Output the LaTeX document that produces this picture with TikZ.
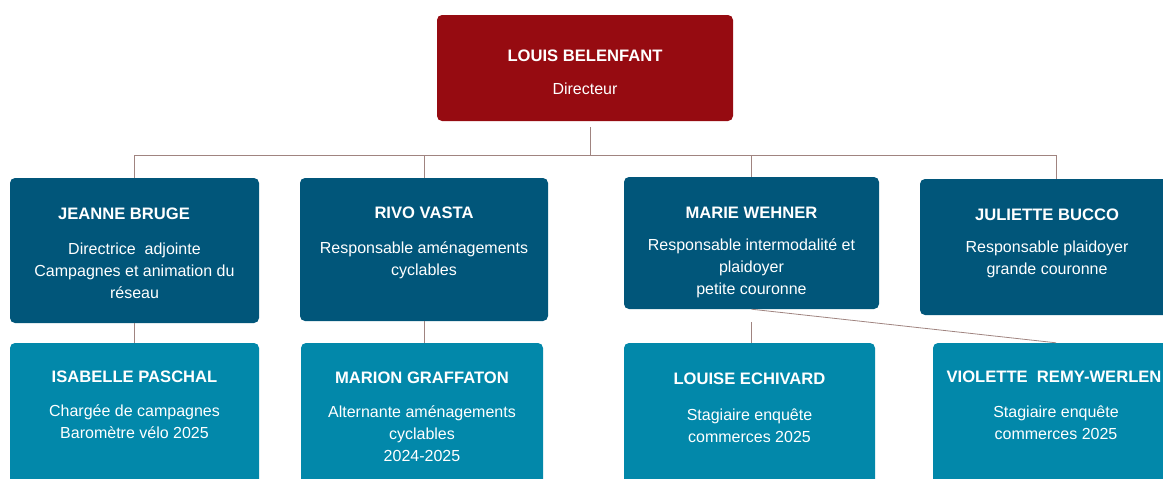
\documentclass[tikz,border=0pt]{standalone}
\usepackage{fontspec}
\setmainfont{Liberation Sans}
\usepackage{tikz}
\usetikzlibrary{positioning}

\definecolor{dirred}{RGB}{150,11,17}
\definecolor{teamblue}{RGB}{1,86,122}
\definecolor{staffblue}{RGB}{2,136,170}
\definecolor{linkbrown}{RGB}{160,132,128}

\newcommand{\who}[1]{{\fontsize{16.6}{22}\selectfont\bfseries #1}}

\begin{document}
\begin{tikzpicture}[x=1pt, y=-1pt,
    box/.style={
      rounded corners=5pt, inner sep=0pt
    },
    boss/.style={box, fill=dirred},
    team/.style={box, fill=teamblue, minimum height=140pt},
    staff/.style={box, fill=staffblue, minimum height=160pt},
    txt/.style={align=center, inner sep=0pt, text=white,
      font=\fontsize{16}{22}\selectfont},
    link/.style={draw=linkbrown, line width=0.8pt},
  ]
    \clip (0,0) rectangle (1163,479);

    \node[boss, minimum width=296pt, minimum height=106pt](louis) at (585,68) {};
    \node[txt, below=35pt of louis.north](louis_txt){
      \who{LOUIS BELENFANT}\\[11pt]
      Directeur
    };

    \node[team, minimum width=249pt, minimum height=145pt](jeanne) at (134.5,250.5) {};
    \node[txt, below=30pt of jeanne.north](jeanne_txt){
      \who{JEANNE BRUGE}\kern21pt\\[13pt]
      Directrice~~adjointe\\
      Campagnes et animation du\\
      réseau
    };

    \node[team, minimum width=248pt, minimum height=143pt](rivo) at (424,249.5) {};
    \node[txt, below=29pt of rivo.north](rivo_txt){
      \who{RIVO VASTA}\\[13pt]
      Responsable aménagements\\
      cyclables
    };

    \node[team, minimum width=255pt, minimum height=132pt](marie) at (751.5,243) {};
    \node[txt, below=30pt of marie.north](marie_txt){
      \who{MARIE WEHNER}\\[10pt]
      Responsable intermodalité et\\
      plaidoyer\\
      petite couronne
    };

    \node[team, minimum width=254pt, minimum height=136pt](juliette) at (1047,247) {};
    \node[txt, below=30pt of juliette.north](juliette_txt){
      \who{JULIETTE BUCCO}\\[10pt]
      Responsable plaidoyer\\
      grande couronne
    };

    \node[staff, minimum width=249pt](isabelle) at (134.5,423) {};
    \node[txt, below=28pt of isabelle.north](isabelle_txt){
      \who{ISABELLE PASCHAL}\\[12pt]
      Chargée de campagnes\\
      Baromètre vélo 2025
    };

    \node[staff, minimum width=242pt](marion) at (422,423) {};
    \node[txt, below=29pt of marion.north](marion_txt){
      \who{MARION GRAFFATON}\\[12pt]
      Alternante aménagements\\
      cyclables\\
      2024-2025
    };

    \node[staff, minimum width=251pt](louise) at (749.5,423) {};
    \node[txt, below=30pt of louise.north](louise_txt){
      \who{LOUISE ECHIVARD}\\[14pt]
      Stagiaire enquête\\
      commerces 2025
    };

    \node[staff, minimum width=246pt](violette) at (1056,423) {};
    \node[txt, below=28pt of violette.north](violette_txt){
      \who{VIOLETTE~~REMY-WERLEN}\kern4pt\\[13pt]
      Stagiaire enquête\\
      commerces 2025
    };

    % tree links
    \coordinate (louis_out) at (590,127);
    \coordinate (bus) at (590,155);
    \coordinate (bus_end) at (1056,155);
    \draw[link] (louis_out) -- (bus);
    \draw[link] (jeanne.north) |- (bus_end) -- (bus_end |- juliette.north);
    \draw[link] (rivo.north) -- (rivo.north |- bus);
    \draw[link] (marie.north) -- (marie.north |- bus);

    \draw[link] (jeanne.south) -- (isabelle.north);
    \draw[link] (rivo.south) -- (rivo.south |- marion.north);
    \draw[link] ([yshift=-13pt]marie.south) -- (marie.south |- louise.north);
    \draw[link] (marie.south) -- (violette.north);

  \end{tikzpicture}
\end{document}
